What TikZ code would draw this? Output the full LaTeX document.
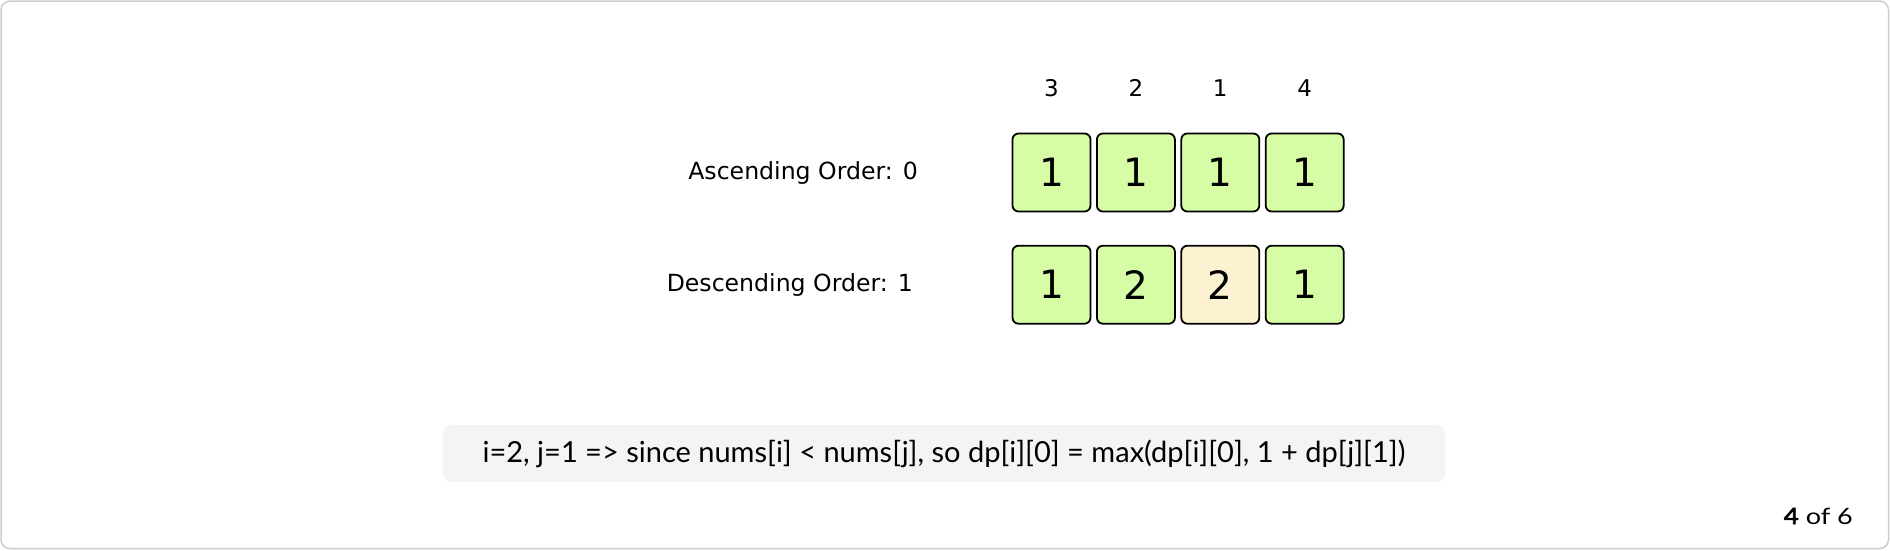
\documentclass[tikz,border=0pt]{standalone}
\usepackage{fontspec}
\setmainfont{DejaVu Sans}
\newfontfamily\latofont{Lato}
\newfontfamily\latowide[FakeStretch=1.2]{Lato}
\newfontfamily\latowidebold[FakeStretch=1.15,FakeBold=3]{Lato}
\definecolor{cellgreen}{RGB}{214,253,166}
\definecolor{cellcream}{RGB}{252,242,210}
\definecolor{framegray}{RGB}{205,205,205}
\definecolor{notegray}{RGB}{244,244,244}
\tikzset{
  cell/.style={draw=black, line width=1.8pt, rounded corners=6pt, fill=cellgreen,
    minimum width=78pt, minimum height=78pt, inner sep=0pt,
    font=\fontsize{39}{44}\selectfont},
  hilite/.style={cell, fill=cellcream},
  hdr/.style={inner sep=0pt, font=\fontsize{23}{28}\selectfont},
  rowlabel/.style={inner sep=0pt, anchor=east, font=\fontsize{23.6}{28}\selectfont},
}
\begin{document}
\begin{tikzpicture}[x=1pt,y=-1pt]
\useasboundingbox (0,0) rectangle (1890,550);
\draw[framegray, line width=1.5pt, rounded corners=9pt] (1,1) rectangle (1888.5,548.5);
% headers
\foreach \v/\x [count=\i] in {3/1051.5,2/1135.9,1/1220.3,4/1304.7}
  \node[hdr] (h\i) at (\x,88) {\v};
% labels
\node[rowlabel] (asc) at (918,173) {Ascending Order: 0};
\node[rowlabel] (desc) at (913,285) {Descending Order: 1};
% row 1
\node[cell] (a1) at (1051.5,172.5) {1};
\node[cell] (a2) at (1135.9,172.5) {1};
\node[cell] (a3) at (1220.3,172.5) {1};
\node[cell] (a4) at (1304.7,172.5) {1};
% row 2
\node[cell] (d1) at (1051.5,284.7) {1};
\node[cell] (d2) at (1135.9,284.7) {2};
\node[hilite] (d3) at (1220.3,284.7) {2};
\node[cell] (d4) at (1304.7,284.7) {1};
% note
\node[fill=notegray, rounded corners=8pt, minimum width=1002pt, minimum height=57pt, inner sep=0pt] (notebox) at (944,453.5) {};
\node[inner sep=0pt, font=\latofont\fontsize{29}{34}\selectfont] (note) at (notebox.center) {i=2, j=1 => since nums[i] < nums[j], so dp[i][0] = max(dp[i][0], 1 + dp[j][1])};
% pager
\node[inner sep=0pt, anchor=base east, font=\latowide\fontsize{22.5}{26}\selectfont] (pager) at (1853,524) {{\latowidebold 4} of 6};
\end{tikzpicture}
\end{document}
